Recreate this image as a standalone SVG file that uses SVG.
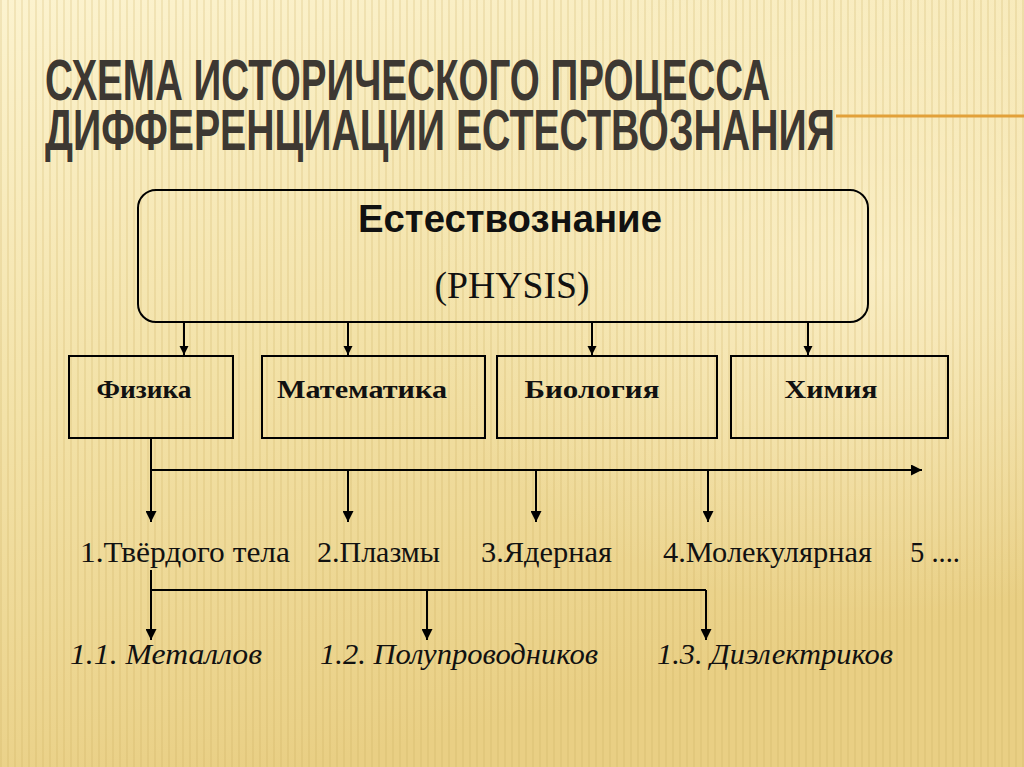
<svg xmlns="http://www.w3.org/2000/svg" width="1024" height="767" viewBox="0 0 1024 767">
<defs>
<linearGradient id="bg" x1="0" y1="0" x2="0.3" y2="1">
<stop offset="0" stop-color="#fcf3cf"/>
<stop offset="0.5" stop-color="#f3e2a8"/>
<stop offset="1" stop-color="#e9cf84"/>
</linearGradient>
<radialGradient id="glow" cx="0.85" cy="0.35" r="0.45">
<stop offset="0" stop-color="#fff6d8" stop-opacity="0.6"/>
<stop offset="1" stop-color="#fff6d8" stop-opacity="0"/>
</radialGradient>
<pattern id="stripes" width="7" height="10" patternUnits="userSpaceOnUse">
<rect x="0" y="0" width="2" height="10" fill="#c9a85a" opacity="0.2"/>
</pattern>
<marker id="ah" viewBox="0 0 10 10" refX="10" refY="5" markerWidth="11" markerHeight="11" markerUnits="userSpaceOnUse" orient="auto">
<path d="M0,0 L10,5 L0,10 z" fill="#000"/>
</marker>
<marker id="ahs" viewBox="0 0 10 10" refX="10" refY="5" markerWidth="9" markerHeight="12" markerUnits="userSpaceOnUse" orient="auto">
<path d="M0,0 L10,5 L0,10 z" fill="#000"/>
</marker>
</defs>
<style>
.title{font-family:"Liberation Sans Narrow","Liberation Sans",Arial,sans-serif;font-weight:bold;font-size:58px;fill:#3d3832}
.shadow{font-family:"Liberation Sans Narrow","Liberation Sans",Arial,sans-serif;font-weight:bold;font-size:58px;fill:#000;opacity:0.15}
.box{fill:none;stroke:#000;stroke-width:2}
.lbl{font-family:"Liberation Serif","Times New Roman",serif;font-weight:bold;font-size:26px;fill:#111;text-anchor:middle}
.item{font-family:"Liberation Serif","Times New Roman",serif;font-size:29px;fill:#111}
.sub{font-family:"Liberation Serif","Times New Roman",serif;font-style:italic;font-size:29px;fill:#111}
.ln{stroke:#000;stroke-width:2;fill:none}
</style>
<rect width="1024" height="767" fill="url(#bg)"/>
<rect width="1024" height="767" fill="url(#glow)"/>
<rect width="1024" height="767" fill="url(#stripes)"/>
<line x1="836" y1="116" x2="1024" y2="116" stroke="#e2a13a" stroke-width="3"/>
<g id="title">
<text class="title" x="45" y="100" textLength="725" lengthAdjust="spacingAndGlyphs">СХЕМА ИСТОРИЧЕСКОГО ПРОЦЕССА</text>
<text class="title" x="45" y="150" textLength="790" lengthAdjust="spacingAndGlyphs">ДИФФЕРЕНЦИАЦИИ ЕСТЕСТВОЗНАНИЯ</text>
</g>
<g id="root">
<rect class="box" x="138" y="190" width="730" height="132" rx="18"/>
<text x="510" y="232" text-anchor="middle" textLength="304" lengthAdjust="spacingAndGlyphs" style="font-family:'Liberation Sans Narrow','Liberation Sans',Arial,sans-serif;font-weight:bold;font-size:39px;fill:#111">Естествознание</text>
<text x="512" y="298" text-anchor="middle" textLength="155" lengthAdjust="spacingAndGlyphs" style="font-family:'Liberation Serif','Times New Roman',serif;font-size:38px;fill:#111">(PHYSIS)</text>
</g>
<g id="fizika"><rect class="box" x="69" y="356" width="164" height="82"/><text class="lbl" x="144" y="398" textLength="95" lengthAdjust="spacingAndGlyphs">Физика</text></g>
<g id="matematika"><rect class="box" x="262" y="356" width="223" height="82"/><text class="lbl" x="362" y="398" textLength="170" lengthAdjust="spacingAndGlyphs">Математика</text></g>
<g id="biologiya"><rect class="box" x="497" y="356" width="220" height="82"/><text class="lbl" x="592" y="398" textLength="135" lengthAdjust="spacingAndGlyphs">Биология</text></g>
<g id="khimiya"><rect class="box" x="731" y="356" width="217" height="82"/><text class="lbl" x="831" y="398" textLength="93" lengthAdjust="spacingAndGlyphs">Химия</text></g>
<g id="branches">
<text class="item" x="80" y="562" textLength="210" lengthAdjust="spacingAndGlyphs">1.Твёрдого тела</text>
<text class="item" x="317" y="562" textLength="123" lengthAdjust="spacingAndGlyphs">2.Плазмы</text>
<text class="item" x="481" y="562" textLength="131" lengthAdjust="spacingAndGlyphs">3.Ядерная</text>
<text class="item" x="663" y="562" textLength="209" lengthAdjust="spacingAndGlyphs">4.Молекулярная</text>
<text class="item" x="910" y="562" textLength="50" lengthAdjust="spacingAndGlyphs">5 ....</text>
</g>
<g id="subbranches">
<text class="sub" x="70" y="664" textLength="192" lengthAdjust="spacingAndGlyphs">1.1.  Металлов</text>
<text class="sub" x="320" y="664" textLength="278" lengthAdjust="spacingAndGlyphs">1.2. Полупроводников</text>
<text class="sub" x="657" y="664" textLength="236" lengthAdjust="spacingAndGlyphs">1.3. Диэлектриков</text>
</g>
<g id="connectors">
<line class="ln" x1="184" y1="322" x2="184" y2="355" marker-end="url(#ahs)"/>
<line class="ln" x1="348" y1="322" x2="348" y2="355" marker-end="url(#ahs)"/>
<line class="ln" x1="592" y1="322" x2="592" y2="355" marker-end="url(#ahs)"/>
<line class="ln" x1="808" y1="322" x2="808" y2="355" marker-end="url(#ahs)"/>
<line class="ln" x1="151" y1="438" x2="151" y2="522" marker-end="url(#ah)"/>
<line class="ln" x1="151" y1="470" x2="922" y2="470" marker-end="url(#ah)"/>
<line class="ln" x1="348" y1="470" x2="348" y2="522" marker-end="url(#ah)"/>
<line class="ln" x1="536" y1="470" x2="536" y2="522" marker-end="url(#ah)"/>
<line class="ln" x1="708" y1="470" x2="708" y2="522" marker-end="url(#ah)"/>
<polyline class="ln" points="151,570 151,590 706,590"/>
<line class="ln" x1="151" y1="590" x2="151" y2="640" marker-end="url(#ah)"/>
<line class="ln" x1="427" y1="590" x2="427" y2="640" marker-end="url(#ah)"/>
<line class="ln" x1="706" y1="590" x2="706" y2="640" marker-end="url(#ah)"/>
</g>
</svg>
